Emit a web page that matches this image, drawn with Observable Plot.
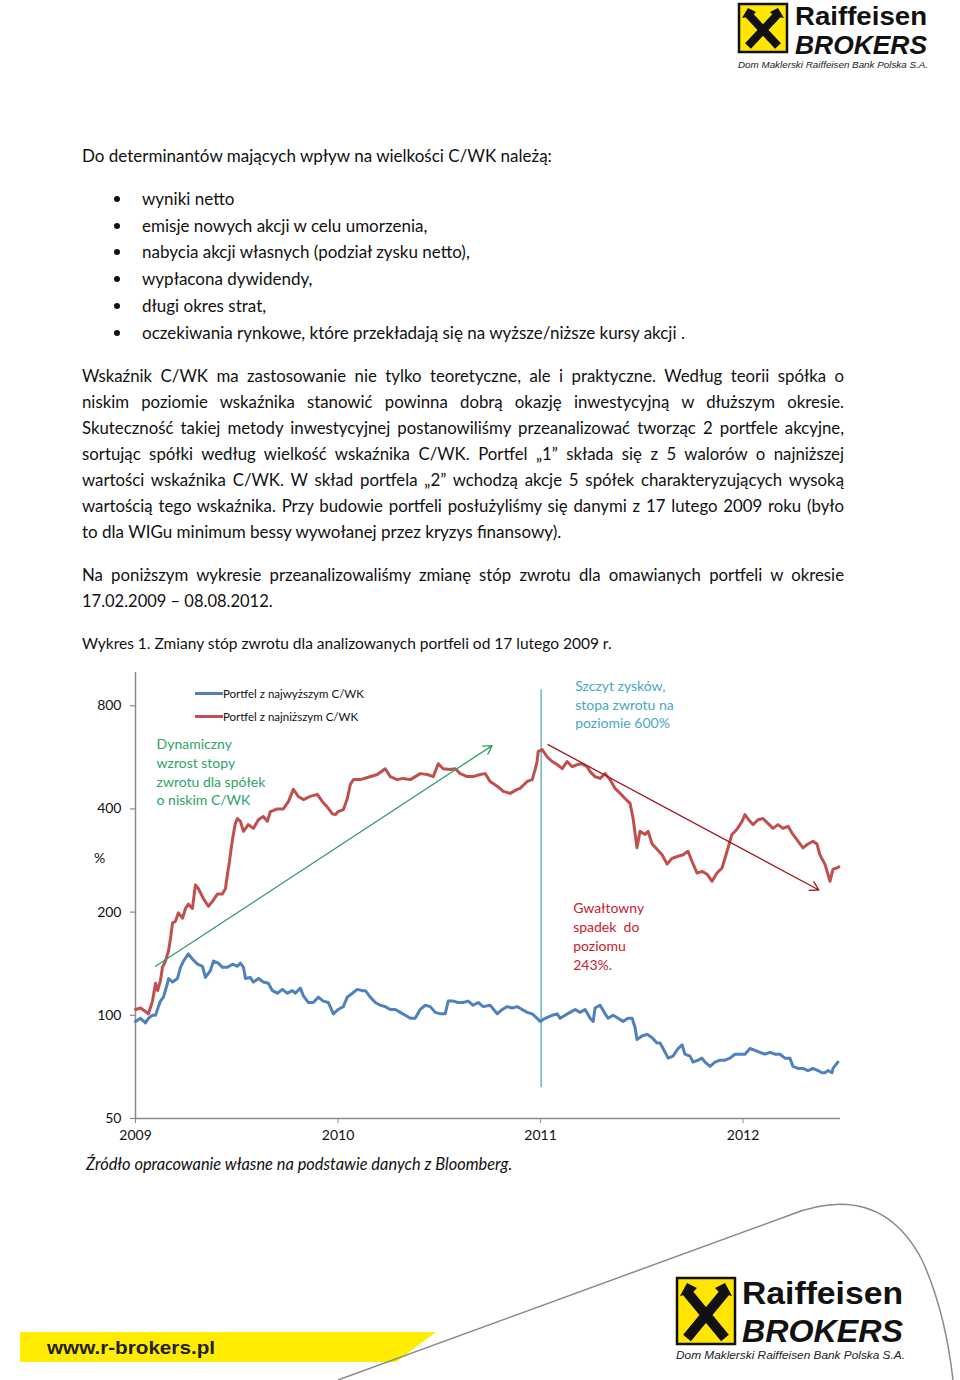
<!DOCTYPE html>
<html><head><meta charset="utf-8">
<script src="https://cdn.jsdelivr.net/npm/d3@7"></script>
<script src="https://cdn.jsdelivr.net/npm/@observablehq/plot@0.6"></script>
<style>
body{margin:0;background:#fff;}
#page{position:relative;width:960px;height:1380px;overflow:hidden;font-family:Lato,"Open Sans",sans-serif;color:#111;}
.t{position:absolute;font-size:17px;line-height:26px;white-space:nowrap;}
.j{position:absolute;left:82px;width:762px;font-size:16.8px;line-height:26px;text-align:justify;text-align-last:justify;white-space:nowrap;}
.dot{position:absolute;left:114px;width:6px;height:6px;border-radius:50%;background:#111;}
.leg{position:absolute;font-size:11.5px;line-height:14px;white-space:nowrap;}
.sw{position:absolute;width:28px;height:3px;}
#chart{position:absolute;left:80px;top:660px;}
</style></head>
<body><div id="page">

<svg style="position:absolute;left:735px;top:0px" width="205" height="72">
  <rect x="4" y="4" width="48" height="48" fill="#FFE500" stroke="#111" stroke-width="2.5"/>
  <path d="M13 46 L43 14 M43 46 L13 14" stroke="#111" stroke-width="8"/>
  <path d="M7 18 L13 8 L21 12 L17 16 Z M49 18 L43 8 L35 12 L39 16 Z" fill="#111"/>
  <text x="60" y="25" font-family="Liberation Sans, Arial" font-weight="bold" font-size="25" textLength="132" lengthAdjust="spacingAndGlyphs" fill="#111">Raiffeisen</text>
  <text x="60" y="54" font-family="Liberation Sans, Arial" font-weight="bold" font-style="italic" font-size="25" textLength="132" lengthAdjust="spacingAndGlyphs" fill="#111">BROKERS</text>
  <text x="3" y="68" font-family="Liberation Sans, Arial" font-style="italic" font-size="9.5" textLength="190" lengthAdjust="spacingAndGlyphs" fill="#222">Dom Maklerski Raiffeisen Bank Polska S.A.</text>
</svg>

<div class="t" style="left:82px;top:143px">Do determinantów mających wpływ na wielkości C/WK należą:</div>
<div class="dot" style="top:196px"></div><div class="t" style="left:142px;top:186px">wyniki netto</div>
<div class="dot" style="top:223px"></div><div class="t" style="left:142px;top:213px">emisje nowych akcji w celu umorzenia,</div>
<div class="dot" style="top:249px"></div><div class="t" style="left:142px;top:239px">nabycia  akcji własnych (podział zysku netto),</div>
<div class="dot" style="top:276px"></div><div class="t" style="left:142px;top:266px">wypłacona dywidendy,</div>
<div class="dot" style="top:303px"></div><div class="t" style="left:142px;top:293px">długi okres strat,</div>
<div class="dot" style="top:330px"></div><div class="t" style="left:142px;top:320px">oczekiwania rynkowe, które przekładają się na wyższe/niższe kursy akcji .</div>

<div class="j" style="top:363px">Wskaźnik C/WK ma zastosowanie nie tylko teoretyczne, ale i praktyczne. Według teorii spółka o</div>
<div class="j" style="top:389px">niskim poziomie wskaźnika stanowić powinna dobrą okazję inwestycyjną w dłuższym okresie.</div>
<div class="j" style="top:415px">Skuteczność takiej metody inwestycyjnej postanowiliśmy przeanalizować tworząc 2 portfele akcyjne,</div>
<div class="j" style="top:441px">sortując spółki według wielkość wskaźnika C/WK. Portfel „1” składa się z 5 walorów o najniższej</div>
<div class="j" style="top:467px">wartości wskaźnika C/WK. W skład portfela „2” wchodzą akcje  5 spółek charakteryzujących wysoką</div>
<div class="j" style="top:493px">wartością tego wskaźnika. Przy budowie portfeli posłużyliśmy się danymi z 17 lutego 2009 roku (było</div>
<div class="t" style="left:82px;top:519px">to dla WIGu minimum bessy wywołanej przez kryzys finansowy).</div>

<div class="j" style="top:562px">Na poniższym wykresie przeanalizowaliśmy zmianę stóp zwrotu dla omawianych portfeli w okresie</div>
<div class="t" style="left:82px;top:588px;font-size:16.5px">17.02.2009 – 08.08.2012.</div>

<div class="t" style="left:82px;top:630px;font-size:15.5px">Wykres 1. Zmiany stóp zwrotu dla analizowanych portfeli od 17 lutego 2009 r.</div>

<div id="chart"></div>

<div class="sw" style="left:195px;top:692px;background:#4F81BD"></div>
<div class="leg" style="left:223px;top:687px">Portfel z najwyższym  C/WK</div>
<div class="sw" style="left:195px;top:715px;background:#C0504D"></div>
<div class="leg" style="left:223px;top:710px">Portfel z najniższym  C/WK</div>

<div class="t" style="left:86px;top:1151px;font-style:italic;font-size:16.4px">Źródło opracowanie własne na podstawie danych z Bloomberg.</div>

<svg style="position:absolute;left:0;top:1180px" width="960" height="200">
  <polygon points="20,152 436,152 396,182 20,182" fill="#FFEC00"/>
  <path d="M338 200 L790 35 Q880 0 922 80 Q945 130 953 200" fill="none" stroke="#8a8a8a" stroke-width="1.5"/>
  <text x="47" y="174" font-family="Liberation Sans, Arial" font-weight="bold" font-size="19" textLength="168" lengthAdjust="spacingAndGlyphs" fill="#222">www.r-brokers.pl</text>
</svg>

<svg style="position:absolute;left:670px;top:1270px" width="250" height="100">
  <rect x="7" y="8" width="58" height="66" fill="#FFE500" stroke="#111" stroke-width="2.5"/>
  <path d="M17 68 L55 22 M55 68 L17 22" stroke="#111" stroke-width="10"/>
  <path d="M10 26 L17 13 L27 18 L22 23 Z M62 26 L55 13 L45 18 L50 23 Z" fill="#111"/>
  <text x="72" y="34" font-family="Liberation Sans, Arial" font-weight="bold" font-size="32" textLength="161" lengthAdjust="spacingAndGlyphs" fill="#111">Raiffeisen</text>
  <text x="72" y="72" font-family="Liberation Sans, Arial" font-weight="bold" font-style="italic" font-size="32" textLength="161" lengthAdjust="spacingAndGlyphs" fill="#111">BROKERS</text>
  <text x="6" y="89" font-family="Liberation Sans, Arial" font-style="italic" font-size="11" textLength="229" lengthAdjust="spacingAndGlyphs" fill="#222">Dom Maklerski Raiffeisen Bank Polska S.A.</text>
</svg>

</div>
<script>
// Portfolio with lowest C/WK (red): [decimal year, % level]
const lowCWK = [[2009.129,104],[2009.154,105],[2009.193,101],[2009.213,110],[2009.228,124],[2009.238,118],[2009.252,126],[2009.262,138],[2009.277,144],[2009.292,154],[2009.302,168],[2009.312,186],[2009.326,188],[2009.341,199],[2009.361,192],[2009.376,205],[2009.390,211],[2009.410,205],[2009.425,240],[2009.440,234],[2009.464,219],[2009.489,208],[2009.509,215],[2009.534,226],[2009.558,226],[2009.573,234],[2009.583,258],[2009.593,281],[2009.603,312],[2009.612,337],[2009.622,363],[2009.632,375],[2009.647,368],[2009.662,344],[2009.686,360],[2009.711,351],[2009.736,372],[2009.760,380],[2009.780,368],[2009.795,393],[2009.830,400],[2009.859,400],[2009.884,420],[2009.908,456],[2009.933,435],[2009.958,426],[2009.992,435],[2010.027,441],[2010.052,420],[2010.076,405],[2010.101,387],[2010.116,385],[2010.130,393],[2010.155,398],[2010.175,429],[2010.190,472],[2010.205,487],[2010.239,487],[2010.274,494],[2010.323,504],[2010.362,524],[2010.387,497],[2010.421,487],[2010.451,491],[2010.486,487],[2010.535,507],[2010.570,504],[2010.599,497],[2010.624,542],[2010.648,524],[2010.683,521],[2010.708,524],[2010.732,507],[2010.767,497],[2010.796,497],[2010.831,504],[2010.856,507],[2010.880,481],[2010.915,466],[2010.945,450],[2010.979,444],[2011.014,456],[2011.028,459],[2011.063,481],[2011.088,487],[2011.102,521],[2011.112,550],[2011.117,588],[2011.137,596],[2011.162,567],[2011.186,550],[2011.211,539],[2011.236,524],[2011.260,550],[2011.285,531],[2011.310,539],[2011.334,542],[2011.359,531],[2011.374,514],[2011.398,497],[2011.423,491],[2011.448,507],[2011.472,487],[2011.497,459],[2011.522,444],[2011.546,429],[2011.571,415],[2011.586,375],[2011.605,308],[2011.620,344],[2011.645,337],[2011.660,344],[2011.680,316],[2011.704,305],[2011.729,294],[2011.754,276],[2011.778,287],[2011.808,291],[2011.833,294],[2011.857,301],[2011.877,281],[2011.902,260],[2011.926,263],[2011.951,258],[2011.976,246],[2012.000,260],[2012.025,269],[2012.050,301],[2012.074,337],[2012.099,349],[2012.124,368],[2012.138,385],[2012.163,368],[2012.178,360],[2012.203,372],[2012.227,375],[2012.252,363],[2012.277,351],[2012.301,360],[2012.326,351],[2012.351,356],[2012.375,337],[2012.400,322],[2012.425,308],[2012.449,316],[2012.474,322],[2012.494,316],[2012.508,294],[2012.533,276],[2012.558,246],[2012.573,267],[2012.592,269],[2012.602,271]];
// Portfolio with highest C/WK (blue)
const highCWK = [[2009.129,96],[2009.154,98],[2009.178,95],[2009.193,98],[2009.213,100],[2009.228,100],[2009.242,106],[2009.252,110],[2009.267,113],[2009.287,124],[2009.292,128],[2009.312,125],[2009.336,128],[2009.351,138],[2009.366,144],[2009.390,151],[2009.410,146],[2009.435,141],[2009.460,139],[2009.474,129],[2009.499,135],[2009.514,144],[2009.538,142],[2009.558,138],[2009.583,138],[2009.608,141],[2009.632,139],[2009.647,142],[2009.662,138],[2009.672,128],[2009.696,129],[2009.711,125],[2009.736,128],[2009.760,125],[2009.785,124],[2009.805,118],[2009.830,116],[2009.854,119],[2009.879,116],[2009.904,118],[2009.918,116],[2009.943,120],[2009.958,114],[2009.982,109],[2010.007,109],[2010.032,113],[2010.056,110],[2010.081,109],[2010.106,101],[2010.130,104],[2010.155,106],[2010.175,113],[2010.200,116],[2010.224,119],[2010.249,118],[2010.264,118],[2010.288,113],[2010.313,109],[2010.338,107],[2010.362,106],[2010.387,104],[2010.412,104],[2010.436,102],[2010.461,100],[2010.486,98],[2010.510,98],[2010.535,104],[2010.560,107],[2010.584,106],[2010.609,102],[2010.634,101],[2010.658,101],[2010.673,110],[2010.698,110],[2010.722,109],[2010.747,109],[2010.772,110],[2010.796,107],[2010.821,109],[2010.846,106],[2010.880,107],[2010.915,101],[2010.940,104],[2010.964,106],[2010.989,105],[2011.014,106],[2011.038,104],[2011.063,102],[2011.088,101],[2011.112,98],[2011.127,96],[2011.152,98],[2011.186,100],[2011.211,101],[2011.226,98],[2011.250,100],[2011.275,102],[2011.300,104],[2011.324,102],[2011.349,104],[2011.374,98],[2011.389,96],[2011.398,105],[2011.423,107],[2011.448,101],[2011.462,98],[2011.487,100],[2011.512,98],[2011.536,96],[2011.561,98],[2011.581,98],[2011.596,92],[2011.605,85],[2011.630,87],[2011.655,88],[2011.680,86],[2011.704,83],[2011.719,83],[2011.734,80],[2011.759,75],[2011.783,76],[2011.808,80],[2011.828,82],[2011.842,77],[2011.867,76],[2011.882,73],[2011.907,74],[2011.926,75],[2011.941,73],[2011.966,71],[2011.990,73],[2012.015,74],[2012.040,74],[2012.064,75],[2012.089,77],[2012.114,77],[2012.138,77],[2012.163,80],[2012.188,79],[2012.212,78],[2012.237,77],[2012.262,78],[2012.286,77],[2012.311,77],[2012.336,75],[2012.360,75],[2012.375,71],[2012.400,70],[2012.425,70],[2012.449,69],[2012.474,70],[2012.499,69],[2012.518,68],[2012.533,68],[2012.548,69],[2012.568,68],[2012.573,70],[2012.597,73]];

const yTicks = [50, 100, 200, 400, 800];
const xTicks = [2009.129, 2010.129, 2011.129, 2012.129];
const xTickLabels = ["2009", "2010", "2011", "2012"];
const peakDate = 2011.132;
const peakLineRange = [61.5, 891];

const annoTexts = ["Dynamiczny\nwzrost stopy\nzwrotu dla spółek\no niskim C/WK", "Szczyt zysków,\nstopa zwrotu na\npoziomie 600%", "Gwałtowny\nspadek  do\npoziomu\n243%."];
const annoX = [2009.233, 2011.300, 2011.290];
const annoY = [654, 966, 217];
const annoColors = ["#2ea366", "#4aa8c0", "#c8202f"];

const arrowStart = [[2009.228, 139], [2011.166, 616]];
const arrowEnd = [[2010.890, 612], [2012.503, 232]];
const arrowColors = ["#2ea366", "#a5141e"];

const low = lowCWK.map(([t, v]) => ({t, v}));
const high = highCWK.map(([t, v]) => ({t, v}));
const annos = annoTexts.map((text, i) => ({text, x: annoX[i], y: annoY[i], c: annoColors[i]}));
const arrows = arrowStart.map((s, i) => ({x1: s[0], y1: s[1], x2: arrowEnd[i][0], y2: arrowEnd[i][1], c: arrowColors[i]}));
const x0 = lowCWK[0][0], x1 = 2012.61;
const tickLen = 0.0247; // ~5px of the x scale, for the outward y ticks

const chart = Plot.plot({
  width: 780, height: 500,
  marginLeft: 55, marginRight: 20, marginTop: 12, marginBottom: 42,
  x: {type: "linear", domain: [x0, x1]},
  y: {type: "log", domain: [50, 1000], axis: null},
  style: {fontFamily: "Lato, sans-serif", fontSize: "14px", color: "#111", background: "transparent"},
  marks: [
    Plot.ruleY(yTicks, {y: d => d, x1: x0 - tickLen, x2: x0, stroke: "#8a8a8a", strokeWidth: 1.2}),
    Plot.text(yTicks, {x: x0, y: d => d, text: d => String(d), dx: -14, textAnchor: "end", fontSize: 14, fill: "#111"}),
    Plot.axisX({ticks: xTicks, tickFormat: d => xTickLabels[xTicks.indexOf(d)], tickSize: 5, tickPadding: 7, stroke: "#8a8a8a", fill: "#111", label: null, fontSize: 14}),
    Plot.ruleX([x0], {y1: 50, y2: 1000, stroke: "#8a8a8a", strokeWidth: 1.5}),
    Plot.ruleY([50], {x1: x0, x2: x1, stroke: "#8a8a8a", strokeWidth: 1.5}),
    Plot.text([{y: 287}], {x: x0, y: "y", text: () => "%", dx: -36, fontSize: 14, fill: "#111"}),
    Plot.ruleX([peakDate], {y1: peakLineRange[0], y2: peakLineRange[1], stroke: "#6ab4c4", strokeWidth: 1.5}),
    Plot.line(high, {x: "t", y: "v", stroke: "#4F81BD", strokeWidth: 3, strokeLinejoin: "round"}),
    Plot.line(low, {x: "t", y: "v", stroke: "#C0504D", strokeWidth: 3, strokeLinejoin: "round"}),
    Plot.arrow(arrows, {x1: "x1", y1: "y1", x2: "x2", y2: "y2", stroke: "c", strokeWidth: 1.3, headLength: 11}),
    Plot.text(annos, {x: "x", y: "y", text: "text", fill: "c", textAnchor: "start", lineAnchor: "top", fontSize: 14, lineHeight: 1.34})
  ]
});
document.getElementById("chart").appendChild(chart);
</script>
</body></html>
